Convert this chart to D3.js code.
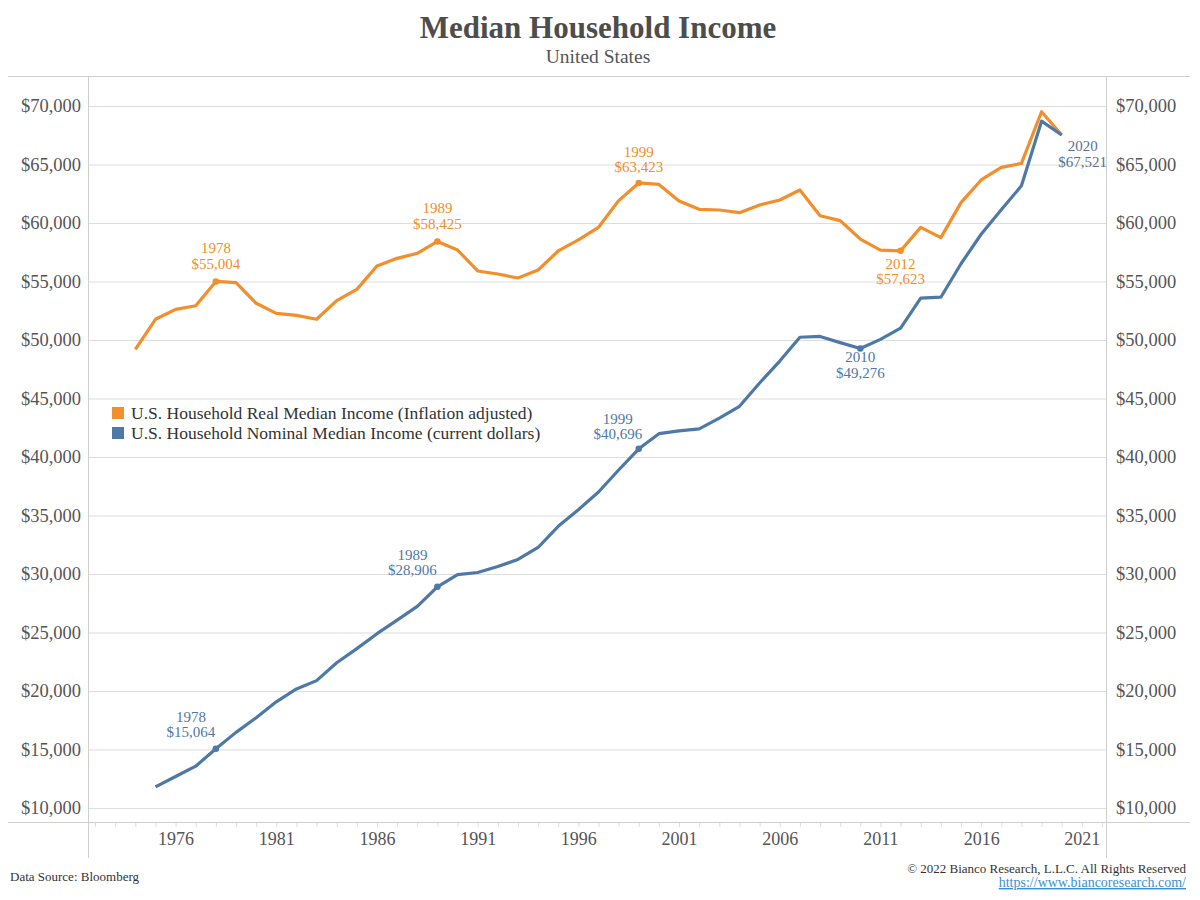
<!DOCTYPE html>
<html>
<head>
<meta charset="utf-8">
<script src="https://cdn.jsdelivr.net/npm/d3@7"></script>
<style>
  body { margin: 0; background: #fff; }
  text { font-family: "Liberation Serif", "DejaVu Serif", serif; }
  .axis path { display: none; }
  .axis line { stroke: #ddd; }
</style>
</head>
<body>
<div id="chart-area"></div>
<script>
var width = 1200, height = 900;

// Data
var realYears = d3.range(1974, 2021);
var realValues = [49200, 51770, 52620, 52930, 55004, 54900, 53140, 52280, 52110, 51770,
    53360, 54330, 56320, 56980, 57410, 58425, 57690, 55900, 55640, 55300,
    55980, 57610, 58550, 59630, 61910, 63423, 63300, 61880, 61170, 61110,
    60880, 61540, 61970, 62820, 60620, 60200, 58630, 57690, 57623, 59630,
    58750, 61740, 63680, 64760, 65100, 69510, 67521];

var nominalYears = d3.range(1975, 2021);
var nominalValues = [11800, 12686, 13572, 15064, 16461, 17710, 19074, 20171, 20885,
    22415, 23618, 24897, 26061, 27225, 28906, 29943, 30126, 30636, 31241,
    32264, 34076, 35492, 37005, 38885, 40696, 41990, 42228, 42409, 43318,
    44334, 46326, 48201, 50233, 50303, 49777, 49276, 50054, 51017, 53585,
    53657, 56516, 59039, 61136, 63179, 68703, 67521];

var yTicks = [10000, 15000, 20000, 25000, 30000, 35000, 40000, 45000, 50000, 55000, 60000, 65000, 70000];
var xTicks = [1976, 1981, 1986, 1991, 1996, 2001, 2006, 2011, 2016, 2021];

var seriesNames = ["U.S. Household Real Median Income (Inflation adjusted)",
    "U.S. Household Nominal Median Income (current dollars)"];
var seriesColors = ["#f28e2b", "#4e79a7"];

// annotated points: series index, year
var notes = [[0, 1978], [0, 1989], [0, 1999], [0, 2012],
    [1, 1978], [1, 1989], [1, 1999], [1, 2010], [1, 2020]];
// label placement offsets (dx, dy of first line baseline from the point)
var noteOffsets = [[0, -28], [0, -28], [0, -26], [0, 18],
    [-25, -27], [-25, -27], [-21, -25], [0, 14], [21, 16]];

var svg = d3.select("#chart-area").append("svg")
    .attr("width", width).attr("height", height);

var x = d3.scaleLinear().domain([1971.65, 2022.2]).range([88, 1106]);
var y = d3.scaleLinear().domain([8800, 72480]).range([822, 77]);

var money = d3.format("$,");

// Title
svg.append("text").attr("x", 598).attr("y", 38)
    .attr("text-anchor", "middle").attr("font-size", "31px")
    .attr("font-weight", "bold").attr("fill", "#4d4d4d")
    .text("Median Household Income");
svg.append("text").attr("x", 598).attr("y", 63)
    .attr("text-anchor", "middle").attr("font-size", "19.5px")
    .attr("fill", "#555")
    .text("United States");

// Grid
svg.append("g").attr("class", "axis grid")
    .attr("transform", "translate(88,0)")
    .call(d3.axisRight(y).tickValues(yTicks).tickSize(1018).tickFormat(""))
    .selectAll("line").attr("stroke", "#efefef");

// Frame lines
var frame = svg.append("g").attr("stroke", "#cfcfcf").attr("stroke-width", 1);
frame.append("line").attr("x1", 8).attr("x2", 1190).attr("y1", 76.5).attr("y2", 76.5);
frame.append("line").attr("x1", 8).attr("x2", 1190).attr("y1", 822.5).attr("y2", 822.5);
frame.append("line").attr("x1", 88.5).attr("x2", 88.5).attr("y1", 77).attr("y2", 858);
frame.append("line").attr("x1", 1106.5).attr("x2", 1106.5).attr("y1", 77).attr("y2", 858);

// Y axes
svg.append("g").attr("class", "axis")
    .attr("transform", "translate(81,0)")
    .call(d3.axisLeft(y).tickValues(yTicks).tickSize(0).tickPadding(0).tickFormat(money));
svg.append("g").attr("class", "axis")
    .attr("transform", "translate(1116,0)")
    .call(d3.axisRight(y).tickValues(yTicks).tickSize(0).tickPadding(0).tickFormat(money));
svg.selectAll(".axis text").attr("font-size", "18.5px").attr("fill", "#555")
    .style("font-family", "Liberation Serif");

// X axis: minor year ticks + labels
svg.append("g").attr("class", "axis")
    .attr("transform", "translate(0,823)")
    .call(d3.axisBottom(x).tickValues(d3.range(1972, 2023)).tickSize(4).tickFormat(""))
    .selectAll("line").attr("stroke", "#e4e4e4");
var xAxis = svg.append("g").attr("class", "axis")
    .attr("transform", "translate(0,823)")
    .call(d3.axisBottom(x).tickValues(xTicks).tickSize(0).tickPadding(9).tickFormat(d3.format("d")));
xAxis.selectAll("text").attr("font-size", "18px").attr("fill", "#555")
    .style("font-family", "Liberation Serif");

// Lines
var line = d3.line().x(function(d) { return x(d[0]); }).y(function(d) { return y(d[1]); });
var seriesData = [d3.zip(realYears, realValues), d3.zip(nominalYears, nominalValues)];

seriesData.forEach(function(data, i) {
    svg.append("path").datum(data)
        .attr("fill", "none")
        .attr("stroke", seriesColors[i])
        .attr("stroke-width", 3.2)
        .attr("stroke-linejoin", "round")
        .attr("d", line);
});

// Annotations
notes.forEach(function(n, i) {
    var data = seriesData[n[0]];
    var pt = data.find(function(d) { return d[0] === n[1]; });
    var px = x(pt[0]), py = y(pt[1]);
    var col = seriesColors[n[0]];
    if (n[1] !== 2020) {
        svg.append("circle").attr("cx", px).attr("cy", py).attr("r", 3.3).attr("fill", col);
    }
    var t = svg.append("text")
        .attr("x", px + noteOffsets[i][0])
        .attr("y", py + noteOffsets[i][1])
        .attr("text-anchor", "middle")
        .attr("font-size", "15px")
        .attr("fill", n[1] === 2020 ? "#5a7190" : col);
    t.append("tspan").text(n[1]);
    t.append("tspan").attr("x", px + noteOffsets[i][0]).attr("dy", 15.5).text(money(pt[1]));
});

// Legend
var legend = svg.append("g").attr("transform", "translate(112,407)");
seriesNames.forEach(function(name, i) {
    var row = legend.append("g").attr("transform", "translate(0," + (i * 20) + ")");
    row.append("rect").attr("width", 12).attr("height", 12).attr("fill", seriesColors[i]);
    row.append("text").attr("x", 19).attr("y", 12)
        .attr("font-size", "17.5px").attr("fill", "#333").text(name);
});

// Footer
svg.append("text").attr("x", 10).attr("y", 881)
    .attr("font-size", "13px").attr("fill", "#333")
    .text("Data Source: Bloomberg");
svg.append("text").attr("x", 1186).attr("y", 873)
    .attr("text-anchor", "end").attr("font-size", "13px").attr("fill", "#333")
    .text("\u00a9 2022 Bianco Research, L.L.C. All Rights Reserved");
svg.append("text").attr("x", 1186).attr("y", 887)
    .attr("text-anchor", "end").attr("font-size", "14px").attr("fill", "#3a8fd0")
    .attr("text-decoration", "underline")
    .text("https://www.biancoresearch.com/");
</script>
</body>
</html>
